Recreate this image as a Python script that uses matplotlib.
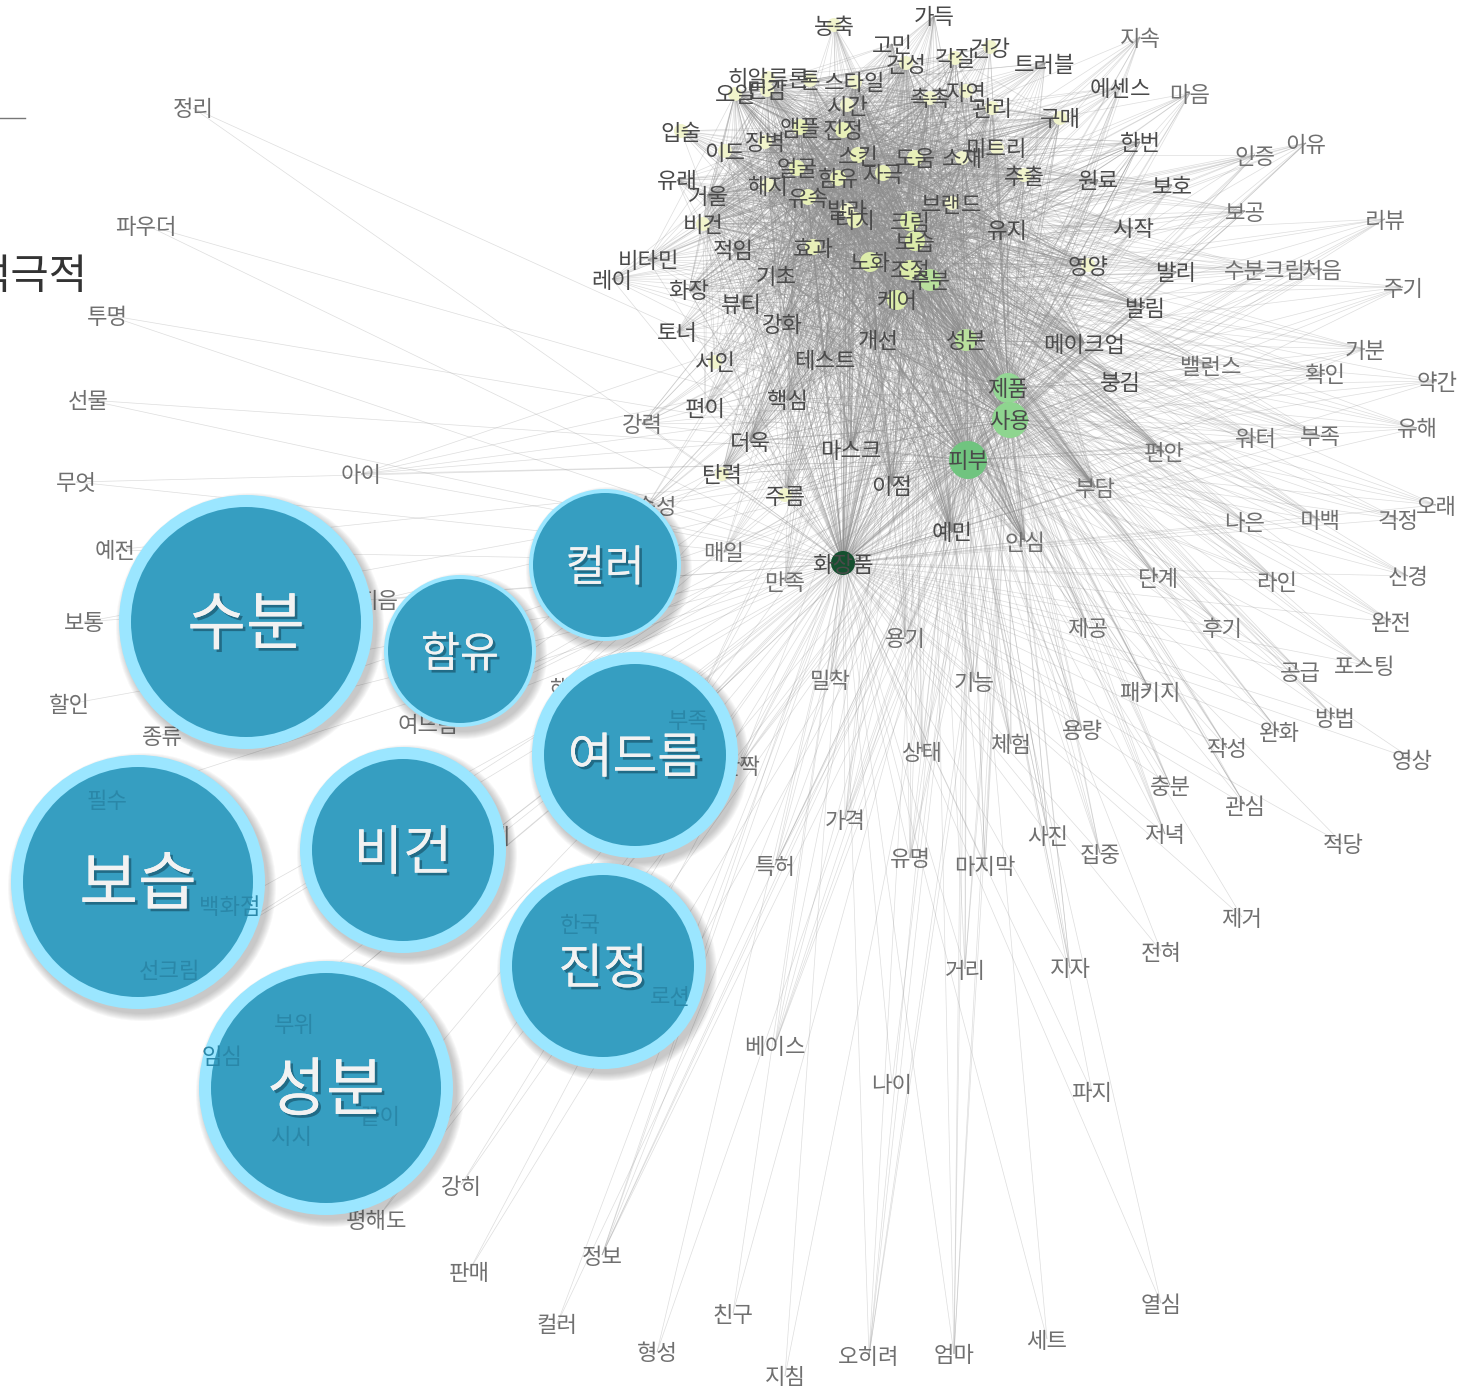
import matplotlib
matplotlib.use('Agg')
import matplotlib.pyplot as plt
import matplotlib.patheffects as pe
from matplotlib.collections import LineCollection
from matplotlib.patches import Circle

plt.rcParams['font.family'] = ['Noto Sans CJK KR', 'DejaVu Sans']

# network nodes (x, y in picture pixels)
labels = ['농축', '가득', '고민', '건성', '각질', '건강', '트러블', '지속', '에센스', '마음',
          '히알루론', '톤', '스타일', '오일', '민감', '시간', '촉촉', '자연', '관리', '구매',
          '입술', '앰플', '진정', '이드', '장벽', '스킨', '도움', '소재', '미트리', '추출',
          '한번', '원료', '보호', '인증', '이유', '유래', '거울', '얼굴', '해지', '함유',
          '자극', '유속', '브랜드', '발라', '터치', '크림', '유지', '시작', '보공', '리뷰',
          '비건', '적임', '효과', '보습', '노화', '조절', '기초', '수분', '영양', '발리',
          '수분크림', '처음', '주기', '비타민', '레이', '화장', '뷰티', '케어', '발림', '토너',
          '강화', '개선', '성분', '메이크업', '서인', '테스트', '제품', '붕김', '밸런스', '확인',
          '기분', '약간', '사용', '핵심', '편이', '강력', '더욱', '마스크', '피부', '편안',
          '워터', '부족', '유해', '탄력', '아이', '무엇', '이점', '주름', '부담', '지속성',
          '나은', '미백', '걱정', '오래', '예전', '매일', '예민', '안심', '화장품', '만족',
          '단계', '라인', '신경', '보통', '지음', '제공', '후기', '완전', '용기', '포스팅',
          '공급', '기능', '밀착', '패키지', '할인', '해', '여드름', '부족', '종류', '용량',
          '방법', '완화', '체험', '상태', '작성', '영상', '반짝', '필수', '충분', '관심',
          '가격', '적당', '사진', '저녁', '집중', '유명', '마지막', '특허', '전체', '백화점',
          '한국', '제거', '전혀', '선크림', '거리', '지자', '로션', '부위', '베이스', '나이',
          '파지', '임심', '시시', '끝이', '강히', '평해도', '정보', '판매', '컬러', '열심',
          '친구', '세트', '형성', '오히려', '엄마', '지침', '정리', '파우더', '투명', '선물']
node_x = [834, 934, 892, 906, 955, 990, 1045, 1140, 1120, 1190,
          768, 810, 855, 735, 767, 847, 930, 966, 992, 1060,
          681, 800, 843, 725, 765, 858, 915, 962, 997, 1024,
          1140, 1098, 1172, 1255, 1306, 677, 708, 797, 768, 838,
          883, 808, 952, 847, 855, 910, 1007, 1133, 1245, 1385,
          703, 733, 813, 915, 870, 910, 776, 930, 1088, 1176,
          1265, 1322, 1403, 648, 612, 689, 741, 897, 1145, 677,
          782, 878, 966, 1084, 715, 825, 1008, 1120, 1211, 1325,
          1365, 1437, 1010, 787, 705, 642, 750, 851, 968, 1164,
          1256, 1320, 1417, 722, 361, 76, 892, 785, 1095, 647,
          1245, 1320, 1398, 1436, 115, 724, 952, 1025, 843, 785,
          1158, 1277, 1408, 84, 378, 1088, 1222, 1391, 905, 1365,
          1300, 974, 830, 1150, 69, 560, 428, 688, 162, 1082,
          1335, 1279, 1011, 922, 1227, 1412, 740, 107, 1170, 1245,
          845, 1343, 1048, 1165, 1100, 910, 985, 775, 490, 230,
          580, 1242, 1161, 170, 965, 1070, 670, 294, 775, 892,
          1092, 222, 292, 380, 461, 377, 602, 469, 557, 1161,
          733, 1047, 657, 869, 954, 785, 193, 146, 107, 88]
node_y = [25, 16, 44, 63, 58, 47, 63, 37, 87, 93,
          78, 80, 82, 94, 90, 105, 98, 91, 108, 118,
          131, 127, 130, 151, 142, 155, 158, 158, 148, 175,
          142, 180, 185, 155, 143, 180, 195, 168, 185, 178,
          173, 197, 203, 210, 220, 221, 230, 228, 211, 219,
          224, 250, 247, 241, 262, 270, 275, 280, 265, 272,
          270, 269, 287, 260, 279, 290, 303, 300, 307, 332,
          324, 339, 340, 343, 362, 360, 388, 382, 366, 374,
          349, 381, 420, 400, 408, 424, 441, 449, 460, 452,
          438, 436, 428, 474, 474, 482, 485, 495, 487, 506,
          522, 520, 519, 505, 550, 552, 532, 541, 563, 581,
          578, 581, 576, 622, 600, 628, 628, 622, 637, 665,
          672, 682, 679, 691, 704, 688, 724, 720, 735, 730,
          718, 732, 744, 752, 748, 759, 765, 800, 785, 805,
          820, 844, 835, 834, 853, 858, 866, 865, 835, 905,
          923, 917, 951, 970, 969, 968, 996, 1024, 1045, 1084,
          1092, 1056, 1136, 1116, 1185, 1219, 1255, 1271, 1324, 1303,
          1313, 1339, 1352, 1356, 1354, 1376, 108, 225, 315, 400]
# 0 = no visible dot, larger = more central node
node_weight = [1, 0, 0, 1, 1, 1, 0, 0, 0, 0,
               1, 1, 1, 1, 1, 1, 1, 1, 1, 1,
               1, 2, 2, 1, 1, 2, 2, 1, 1, 1,
               0, 0, 0, 0, 0, 0, 0, 2, 1, 2,
               2, 2, 1, 1, 2, 3, 0, 0, 0, 0,
               1, 0, 2, 3, 3, 3, 0, 4, 1, 0,
               0, 0, 0, 0, 0, 0, 0, 3, 0, 0,
               0, 0, 4, 0, 1, 0, 6, 0, 0, 0,
               0, 0, 7, 0, 0, 0, 0, 0, 8, 0,
               0, 0, 0, 1, 0, 0, 0, 1, 0, 0,
               0, 0, 0, 0, 0, 0, 0, 0, 9, 0,
               0, 0, 0, 0, 0, 0, 0, 0, 0, 0,
               0, 0, 0, 0, 0, 0, 0, 0, 0, 0,
               0, 0, 0, 0, 0, 0, 0, 0, 0, 0,
               0, 0, 0, 0, 0, 0, 0, 0, 0, 0,
               0, 0, 0, 0, 0, 0, 0, 0, 0, 0,
               0, 0, 0, 0, 0, 0, 0, 0, 0, 0,
               0, 0, 0, 0, 0, 0, 0, 0, 0, 0]
# how many of the hubs below each node is tied to
node_links = [9, 11, 12, 16, 16, 12, 12, 6, 9, 6,
              16, 18, 20, 14, 16, 24, 24, 20, 22, 11,
              10, 26, 26, 16, 20, 30, 30, 26, 20, 18,
              10, 12, 9, 6, 5, 11, 14, 30, 22, 30,
              30, 26, 26, 30, 30, 32, 20, 12, 8, 4,
              14, 18, 28, 32, 32, 32, 24, 32, 12, 9,
              7, 5, 4, 12, 9, 14, 18, 28, 10, 10,
              20, 22, 26, 10, 12, 18, 32, 9, 7, 5,
              5, 3, 32, 16, 11, 7, 14, 14, 32, 8,
              6, 6, 4, 10, 3, 2, 10, 12, 8, 6,
              5, 5, 3, 3, 2, 6, 10, 8, 32, 8,
              6, 5, 3, 2, 2, 6, 4, 3, 7, 3,
              3, 6, 5, 5, 1, 3, 3, 4, 2, 4,
              3, 3, 5, 5, 3, 2, 3, 1, 3, 3,
              4, 2, 3, 3, 3, 4, 3, 3, 2, 1,
              2, 2, 2, 2, 3, 3, 2, 2, 3, 2,
              2, 1, 1, 1, 2, 2, 3, 2, 2, 2,
              2, 2, 2, 3, 3, 2, 2, 2, 2, 2]
hubs = ['화장품', '피부', '사용', '제품', '성분', '수분', '케어', '보습', '크림', '노화', '효과',
        '스킨', '자극', '함유', '앰플', '진정', '얼굴', '도움', '유속', '터치', '비건', '거울',
        '오일', '민감', '스타일', '건성', '시간', '촉촉', '구매', '추출', '메이크업', '개선',
        '마스크', '이점', '안심', '예민', '부담', '테스트', '강화', '기초', '브랜드', '유지',
        '영양', '관리', '미트리', '소재', '장벽', '이드', '해지', '발라', '조절', '적임',
        '뷰티', '화장', '핵심', '더욱', '주름', '탄력', '편안', '발림', '붕김', '원료', '한번', '각질']

# highlighted keywords on top of the network
bubble_labels = ['수분', '함유', '컬러', '여드름', '비건', '보습', '진정', '성분']
bubble_x = [246, 460, 605, 635, 403, 138, 603, 326]
bubble_y = [622, 651, 565, 755, 850, 882, 966, 1088]
bubble_r = [127, 76, 76, 103, 103, 127, 103, 127]
bubble_fs = [46, 30.5, 31, 35, 38.5, 46, 35, 46]

weight_colors = {1: '#f1f4cc', 2: '#e8f0b8', 3: '#dcecaa', 4: '#b9e09c', 6: '#93d794',
                 7: '#8ed58f', 8: '#70c47f', 9: '#14502f'}
weight_sizes = {1: 7, 2: 8, 3: 10, 4: 11, 6: 15, 7: 18, 8: 19, 9: 12}

fig = plt.figure(figsize=(14.62, 13.97), dpi=100)
ax = fig.add_axes([0, 0, 1, 1])
ax.set_xlim(0, 1462)
ax.set_ylim(1397, 0)
ax.axis('off')

# edges
segs = []
for i in range(len(labels)):
    n = node_links[i]
    if n >= 3:
        n = n * 2
    for h in hubs[:n]:
        j = labels.index(h)
        if j != i:
            segs.append([(node_x[i], node_y[i]), (node_x[j], node_y[j])])
ax.add_collection(LineCollection(segs, colors='#8f8f8f', linewidths=0.5, alpha=0.3, zorder=1))

# nodes
for i in range(len(labels)):
    w = node_weight[i]
    if w > 0:
        ax.add_patch(Circle((node_x[i], node_y[i]), weight_sizes[w], fc=weight_colors[w], ec='none', zorder=2))
    tc = '#4a4a4a' if node_weight[i] > 0 or node_links[i] > 8 else '#707070'
    ax.text(node_x[i], node_y[i] + 2, labels[i], fontsize=16, color=tc, ha='center', va='center', zorder=3)

# bubbles
for x, y, r, t, fs in zip(bubble_x, bubble_y, bubble_r, bubble_labels, bubble_fs):
    for k in range(8):
        ax.add_patch(Circle((x + 4, y + 5), r + 7 - k, fc='#303030', ec='none', alpha=0.035, zorder=4))
    ring = 12 if r > 100 else 4
    ax.add_patch(Circle((x, y), r, fc='#9be6ff', ec='none', zorder=5))
    ax.add_patch(Circle((x, y), r - ring, fc='#369ec1', ec='none', zorder=6))
    # keywords below stay faintly visible through the bubble
    for i in range(len(labels)):
        if (node_x[i] - x) ** 2 + (node_y[i] - y) ** 2 < (r - ring - 6) ** 2:
            ax.text(node_x[i], node_y[i] + 2, labels[i], fontsize=16, color='#2a87a8', ha='center', va='center', zorder=6.5)
    ax.text(x, y + 4, t, fontsize=fs, color='#f2f2f2', ha='center', va='center', zorder=7,
            path_effects=[pe.withSimplePatchShadow(offset=(2, -2), shadow_rgbFace='#1c5f78', alpha=0.8), pe.Normal()])

# leftovers of the slide on the left edge
ax.plot([0, 25], [118, 118], color='#777777', lw=1, zorder=3)
ax.text(88, 277, '적극적', fontsize=30, color='#333333', ha='right', va='center', zorder=3)

fig.savefig('out.png', dpi=100)
